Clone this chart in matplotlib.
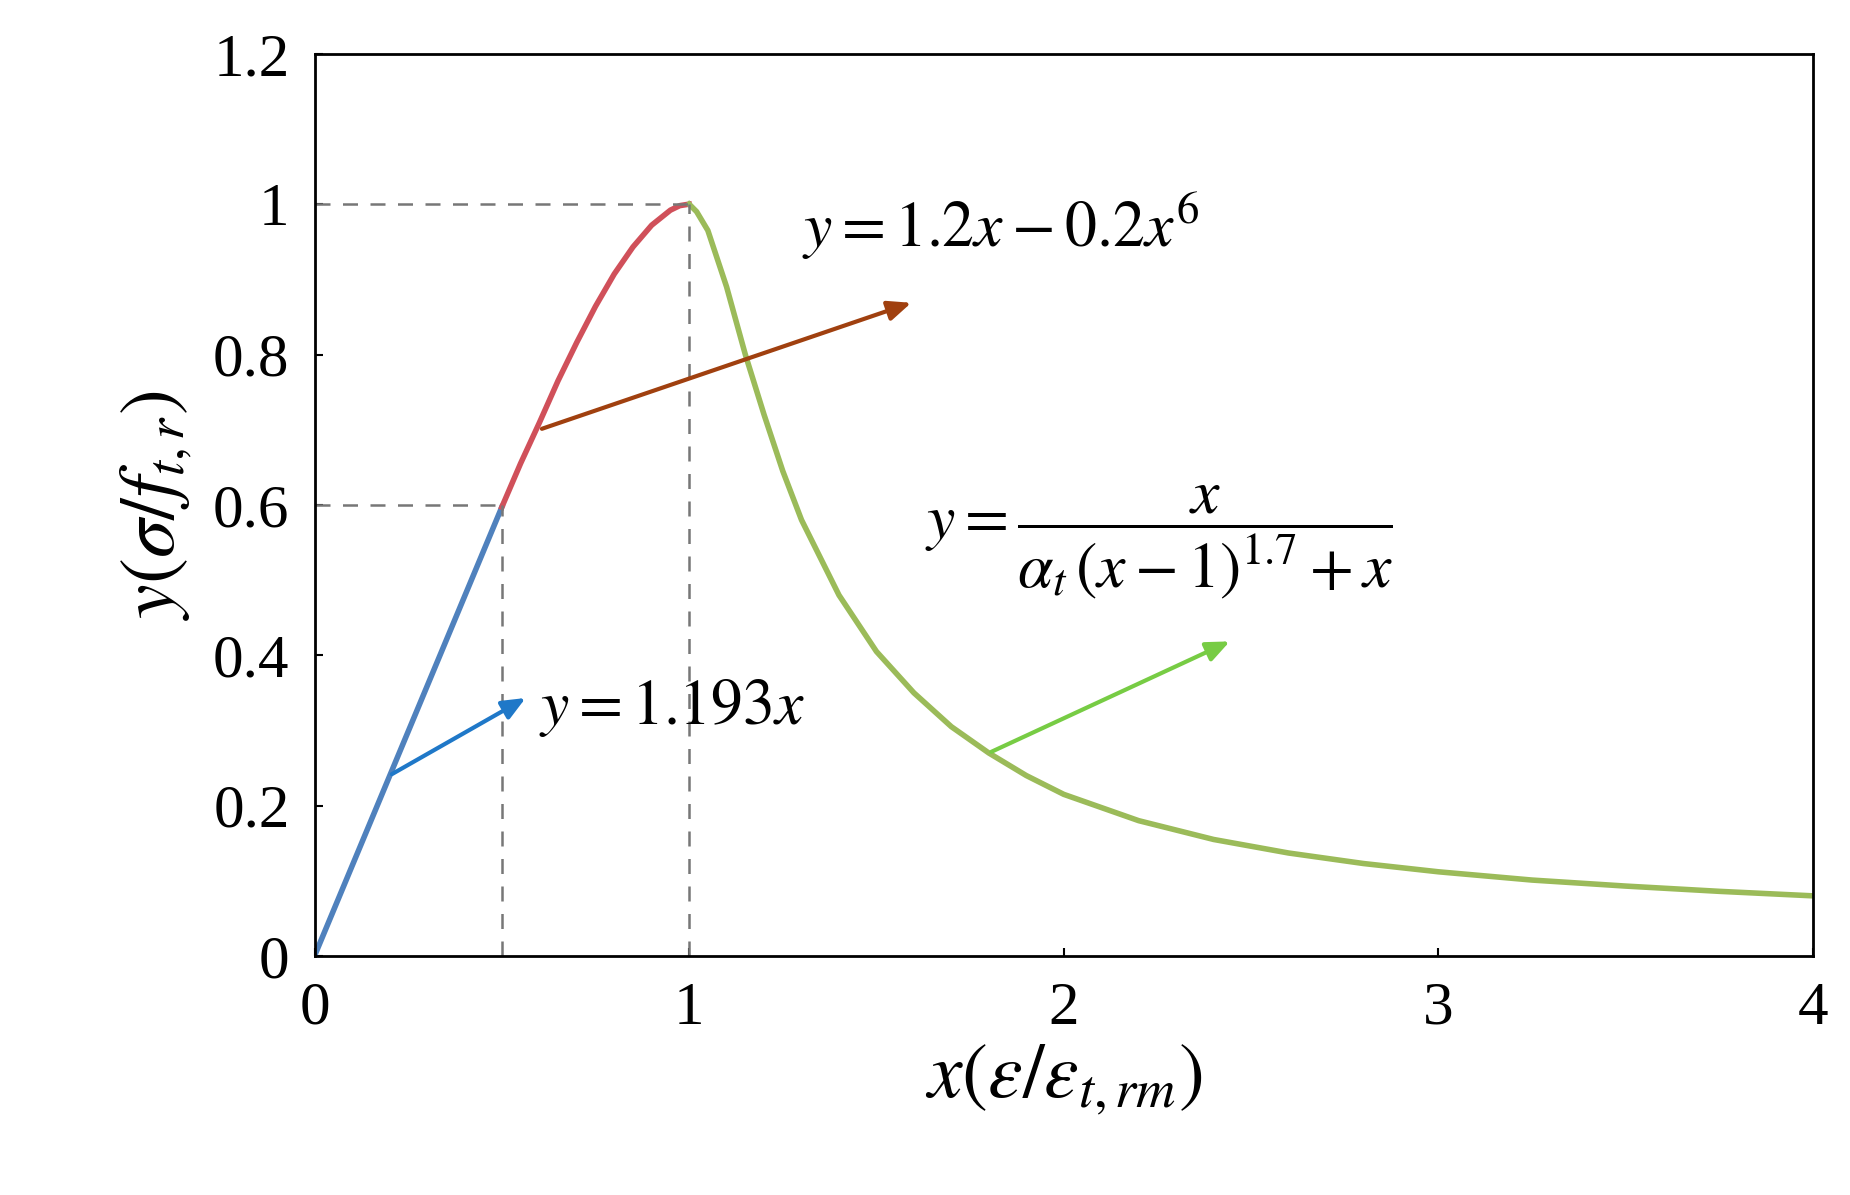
import matplotlib
matplotlib.use("Agg")
import matplotlib.pyplot as plt

plt.rcParams['font.family'] = ['Liberation Serif', 'DejaVu Serif']
plt.rcParams['mathtext.fontset'] = 'stix'

# values
x_lin = [0.0, 0.5]
y_lin = [0.0, 0.597]
x_up = [0.5, 0.55, 0.6, 0.65, 0.7, 0.75, 0.8, 0.85, 0.9, 0.95, 0.975, 1.0]
y_up = [0.597, 0.655, 0.709, 0.765, 0.816, 0.864, 0.907, 0.943, 0.972, 0.992, 0.998, 1.0]
x_down = [1.0, 1.02, 1.05, 1.1, 1.15, 1.2, 1.25, 1.3, 1.4, 1.5, 1.6, 1.7, 1.8, 1.9, 2.0,
          2.2, 2.4, 2.6, 2.8, 3.0, 3.25, 3.5, 3.75, 4.0]
y_down = [1.0, 0.99, 0.965, 0.89, 0.80, 0.72, 0.645, 0.58, 0.48, 0.405, 0.35, 0.305, 0.27,
          0.24, 0.215, 0.18, 0.155, 0.137, 0.123, 0.112, 0.101, 0.093, 0.086, 0.08]

fig = plt.figure(figsize=(18.5, 11.95), dpi=100)
ax = fig.add_axes([0.17, 0.2, 0.81, 0.755])
ax.plot(x_lin, y_lin, color='#4f81bd', lw=4)
ax.plot(x_up, y_up, color='#d0505a', lw=4)
ax.plot(x_down, y_down, color='#9bbb59', lw=4)

dash = dict(color='#777777', ls=(0, (6, 5)), lw=1.8)
ax.plot([0, 1], [1, 1], **dash)
ax.plot([1, 1], [0, 1], **dash)
ax.plot([0, 0.5], [0.6, 0.6], **dash)
ax.plot([0.5, 0.5], [0, 0.6], **dash)

def arrow(p0, p1, c):
    ax.annotate('', xy=p1, xytext=p0,
                arrowprops=dict(arrowstyle='-|>,head_length=1.4,head_width=0.6', color=c, lw=3))

arrow((0.2, 0.24), (0.57, 0.345), '#1f78c8')
arrow((0.6, 0.7), (1.6, 0.87), '#a0400f')
arrow((1.8, 0.27), (2.45, 0.42), '#77cc44')

ax.text(0.6, 0.33, r'$y=1.193x$', fontsize=46, va='center')
ax.text(1.3, 0.97, r'$y=1.2x-0.2x^{6}$', fontsize=46, va='center')
ax.text(1.63, 0.55, r'$y=\dfrac{x}{\alpha_t\,(x-1)^{1.7}+x}$', fontsize=46, va='center')

ax.set_xlim(0, 4)
ax.set_ylim(0, 1.2)
ax.set_xticks([0, 1, 2, 3, 4])
ax.set_yticks([0, 0.2, 0.4, 0.6, 0.8, 1, 1.2])
ax.set_yticklabels(['0', '0.2', '0.4', '0.6', '0.8', '1', '1.2'])
ax.tick_params(labelsize=44, direction='in', length=6, width=1.5, pad=18)
for s in ax.spines.values():
    s.set_linewidth(2)
ax.set_xlabel(r'$x(\varepsilon/\varepsilon_{t,rm})$', fontsize=56, labelpad=4)
ax.set_ylabel(r'$y(\sigma/f_{t,r})$', fontsize=56, labelpad=14)

fig.savefig('out.png', dpi=100)
